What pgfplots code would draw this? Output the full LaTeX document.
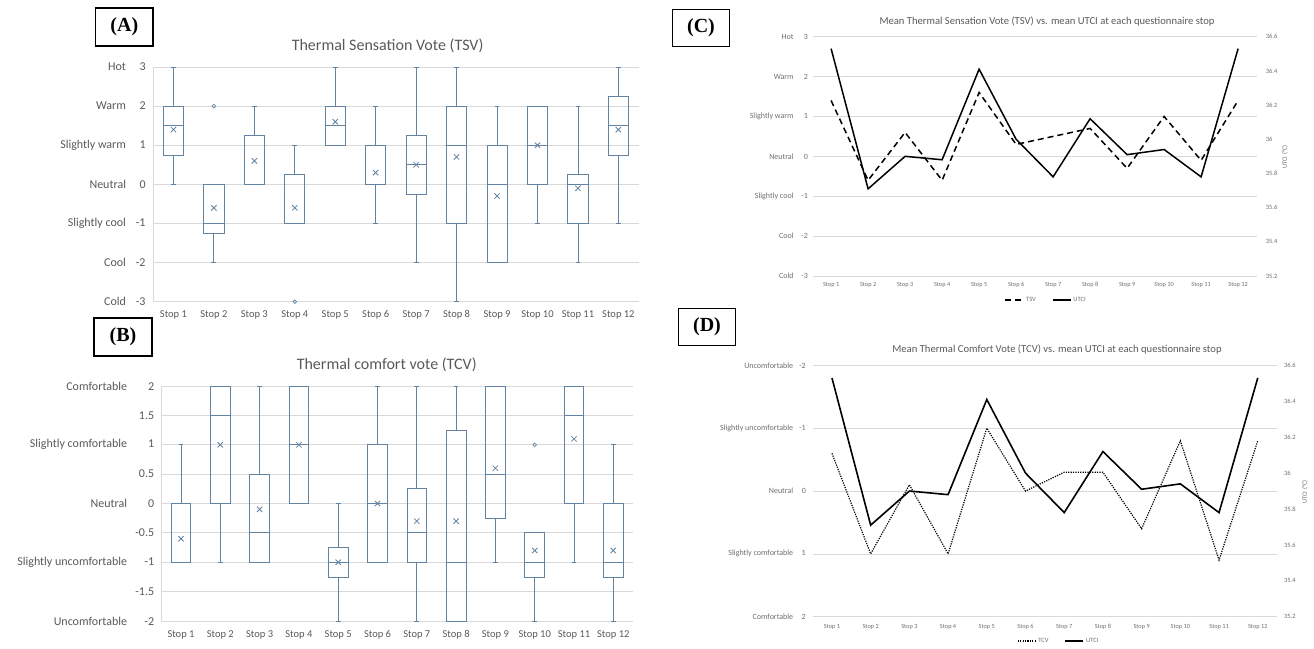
\documentclass[border=0pt]{standalone}
\usepackage{fontspec}
\setmainfont{Carlito}
\newfontfamily\tnr{Liberation Serif}
\usepackage{pgfplots}
\pgfplotsset{compat=1.18}
\usepgfplotslibrary{statistics}
\definecolor{boxcol}{RGB}{98,132,162}
\definecolor{gridc}{RGB}{217,217,217}
\definecolor{txtA}{RGB}{89,89,89}
\definecolor{txtC}{RGB}{110,110,110}
\newcommand{\bp}[6]{\addplot[boxcol, line width=0.8pt, boxplot/draw direction=y, boxplot prepared={draw position=#1, lower whisker=#2, lower quartile=#3, median=#4, upper quartile=#5, upper whisker=#6}] coordinates {};}
\newcommand{\fs}[1]{\fontsize{#1}{#1}\selectfont}
\pgfplotsset{
  boxstyle/.style={
    scale only axis, clip=false,
    xmin=0.5, xmax=12.5,
    axis lines*=left, axis line style={gridc, line width=0.8pt},
    tick style={draw=none},
    ymajorgrids, grid style={gridc, line width=0.8pt},
    xtick={1,2,3,4,5,6,7,8,9,10,11,12},
    xticklabels={Stop 1,Stop 2,Stop 3,Stop 4,Stop 5,Stop 6,Stop 7,Stop 8,Stop 9,Stop 10,Stop 11,Stop 12},
    xticklabel style={font=\fs{10.5}, text=txtA, inner sep=0pt, anchor=north, text height=7pt, text depth=2pt},
    yticklabel style={font=\fs{12}, text=txtA, inner sep=0pt, anchor=east},
    boxplot/draw direction=y,
    boxplot/box extend=0.5, boxplot/whisker extend=0.12,
  },
  linestyle/.style={
    scale only axis, clip=false,
    xmin=0.5, xmax=12.5,
    axis line style={draw=none}, tick style={draw=none},
    xtick={1,2,3,4,5,6,7,8,9,10,11,12},
    xticklabels={Stop 1,Stop 2,Stop 3,Stop 4,Stop 5,Stop 6,Stop 7,Stop 8,Stop 9,Stop 10,Stop 11,Stop 12},
    xticklabel style={font=\fs{6.3}, text=txtC, inner sep=0pt, anchor=north, text height=4.3pt, text depth=1.2pt},
    yticklabel style={font=\fs{8}, text=txtC, inner sep=0pt, anchor=east},
  },
  rightstyle/.style={
    scale only axis, clip=false,
    xmin=0.5, xmax=12.5,
    axis x line=none, axis y line*=right,
    axis line style={draw=none}, tick style={draw=none},
    ymin=35.2, ymax=36.6,
    ytick={35.2,35.4,35.6,35.8,36,36.2,36.4,36.6},
    yticklabels={35.2,35.4,35.6,35.8,36,36.2,36.4,36.6},
    yticklabel style={font=\fs{6.5}, text=txtC, inner sep=0pt, anchor=west},
    legend columns=2,
    legend style={draw=none, fill=none, font=\fs{6.5}, text=txtC, anchor=center,
      /tikz/every even column/.append style={column sep=14pt}},
    legend image code/.code={\draw[#1] (0pt,0pt) -- (18pt,0pt);},
  },
}
\begin{document}
\begin{tikzpicture}
\path[use as bounding box] (0,0) rectangle (1314pt,648pt);

% ---------------- Panel A ----------------
\begin{axis}[boxstyle, width=485.4pt, height=234.7pt,
  at={(153.2pt,346.3pt)}, anchor=south west,
  ymin=-3, ymax=3, ytick={-3,-2,-1,0,1,2,3},
  yticklabels={{Cold\makebox[19.6pt][r]{-3}},{Cool\makebox[19.6pt][r]{-2}},{Slightly cool\makebox[19.6pt][r]{-1}},{Neutral\makebox[19.6pt][r]{0}},{Slightly warm\makebox[19.6pt][r]{1}},{Warm\makebox[19.6pt][r]{2}},{Hot\makebox[19.6pt][r]{3}}},
  yticklabel style={xshift=-7.4pt},
  xticklabel style={yshift=-9pt},
]
\bp{1}{0}{0.75}{1.5}{2}{3}
\bp{2}{-2}{-1.25}{-1}{0}{0}
\bp{3}{0}{0}{0}{1.25}{2}
\bp{4}{-1}{-1}{-1}{0.25}{1}
\bp{5}{1}{1}{1.5}{2}{3}
\bp{6}{-1}{0}{0}{1}{2}
\bp{7}{-2}{-0.25}{0.5}{1.25}{3}
\bp{8}{-3}{-1}{1}{2}{3}
\bp{9}{-2}{-2}{0}{1}{2}
\bp{10}{-1}{0}{1}{2}{2}
\bp{11}{-2}{-1}{0}{0.25}{2}
\bp{12}{-1}{0.75}{1.5}{2.25}{3}
\addplot[only marks, boxcol, mark=x, mark size=3.8pt, line width=0.8pt] coordinates {
(1,1.4) (2,-0.6) (3,0.6) (4,-0.6) (5,1.6) (6,0.3) (7,0.5) (8,0.7) (9,-0.3) (10,1.0) (11,-0.1) (12,1.4)};
\addplot[only marks, boxcol, mark=o, mark size=1.8pt, line width=0.7pt] coordinates {(2,2) (4,-3)};
\end{axis}

% ---------------- Panel B ----------------
\begin{axis}[boxstyle, width=471.6pt, height=235pt,
  at={(161.35pt,27pt)}, anchor=south west,
  ymin=-2, ymax=2, ytick={-2,-1.5,-1,-0.5,0,0.5,1,1.5,2},
  yticklabels={{Uncomfortable\makebox[27pt][r]{-2}},{-1.5},{Slightly uncomfortable\makebox[27pt][r]{-1}},{-0.5},{Neutral\makebox[27pt][r]{0}},{0.5},{Slightly comfortable\makebox[27pt][r]{1}},{1.5},{Comfortable\makebox[27pt][r]{2}}},
  yticklabel style={xshift=-7pt},
  xticklabel style={yshift=-9.5pt},
]
\bp{1}{-1}{-1}{-1}{0}{1}
\bp{2}{-1}{0}{1.5}{2}{2}
\bp{3}{-1}{-1}{-0.5}{0.5}{2}
\bp{4}{0}{0}{1}{2}{2}
\bp{5}{-2}{-1.25}{-1}{-0.75}{0}
\bp{6}{-1}{-1}{0}{1}{2}
\bp{7}{-2}{-1}{-0.5}{0.25}{2}
\bp{8}{-2}{-2}{-1}{1.25}{2}
\bp{9}{-1}{-0.25}{0.5}{2}{2}
\bp{10}{-2}{-1.25}{-1}{-0.5}{-0.5}
\bp{11}{-1}{0}{1.5}{2}{2}
\bp{12}{-2}{-1.25}{-1}{0}{1}
\addplot[only marks, boxcol, mark=x, mark size=3.8pt, line width=0.8pt] coordinates {
(1,-0.6) (2,1.0) (3,-0.1) (4,1.0) (5,-1.0) (6,0.0) (7,-0.3) (8,-0.3) (9,0.6) (10,-0.8) (11,1.1) (12,-0.8)};
\addplot[only marks, boxcol, mark=o, mark size=1.8pt, line width=0.7pt] coordinates {(10,1)};
\end{axis}

% ---------------- Panel C ----------------
\begin{axis}[linestyle, width=444pt, height=239.3pt,
  at={(812.6pt,372pt)}, anchor=south west,
  ymin=-3, ymax=3, ytick={-3,-2,-1,0,1,2,3},
  ymajorgrids, grid style={gridc, line width=0.6pt},
  yticklabels={{Cold\makebox[14.3pt][r]{-3}},{Cool\makebox[14.3pt][r]{-2}},{Slightly cool\makebox[14.3pt][r]{-1}},{Neutral\makebox[14.3pt][r]{0}},{Slightly warm\makebox[14.3pt][r]{1}},{Warm\makebox[14.3pt][r]{2}},{Hot\makebox[14.3pt][r]{3}}},
  yticklabel style={xshift=-4.5pt},
  xticklabel style={yshift=-6.5pt},
]
\addplot[black, line width=1.5pt, dash pattern=on 6pt off 4pt] coordinates {
(1,1.4) (2,-0.6) (3,0.6) (4,-0.6) (5,1.6) (6,0.3) (7,0.5) (8,0.7) (9,-0.3) (10,1.0) (11,-0.1) (12,1.4)};
\end{axis}
\begin{axis}[rightstyle, width=444pt, height=239.3pt,
  at={(812.6pt,372pt)}, anchor=south west,
  yticklabel style={xshift=9pt},
  legend style={at={(0.526,-0.100)}},
]
\addlegendimage{black, line width=1.5pt, dash pattern=on 6pt off 4pt}
\addlegendentry{TSV}
\addplot[black, line width=1.5pt] coordinates {
(1,36.53) (2,35.71) (3,35.90) (4,35.88) (5,36.41) (6,36.00) (7,35.78) (8,36.12) (9,35.91) (10,35.94) (11,35.78) (12,36.53)};
\addlegendentry{UTCI}
\end{axis}

% ---------------- Panel D ----------------
\begin{axis}[linestyle, width=464.5pt, height=251.3pt,
  at={(812.6pt,31.3pt)}, anchor=south west,
  ymin=-2, ymax=2, y dir=reverse, ytick={-2,-1,0,1,2},
  ymajorgrids, grid style={gridc, line width=0.6pt},
  yticklabels={{Uncomfortable\makebox[12.6pt][r]{-2}},{Slightly uncomfortable\makebox[12.6pt][r]{-1}},{Neutral\makebox[12.6pt][r]{0}},{Slightly comfortable\makebox[12.6pt][r]{1}},{Comfortable\makebox[12.6pt][r]{2}}},
  yticklabel style={xshift=-6.6pt},
  xticklabel style={yshift=-6.8pt},
]
\addplot[black, line width=1.2pt, dash pattern=on 1.2pt off 1.2pt] coordinates {
(1,-0.6) (2,1.0) (3,-0.1) (4,1.0) (5,-1.0) (6,0.0) (7,-0.3) (8,-0.3) (9,0.6) (10,-0.8) (11,1.1) (12,-0.8)};
\end{axis}
\begin{axis}[rightstyle, width=464.5pt, height=251.3pt,
  at={(812.6pt,31.3pt)}, anchor=south west,
  yticklabel style={xshift=6.8pt},
  legend style={at={(0.53,-0.097)}},
]
\addlegendimage{black, line width=1.2pt, dash pattern=on 1.2pt off 1.2pt}
\addlegendentry{TCV}
\addplot[black, line width=1.6pt] coordinates {
(1,36.53) (2,35.71) (3,35.90) (4,35.88) (5,36.41) (6,36.00) (7,35.78) (8,36.12) (9,35.91) (10,35.94) (11,35.78) (12,36.53)};
\addlegendentry{UTCI}
\end{axis}

% ---------------- titles and labels ----------------
\node[font=\fs{16}, text=txtA] at (387.6pt,602.5pt) {Thermal Sensation Vote (TSV)};
\node[font=\fs{16}, text=txtA] at (386.7pt,283.3pt) {Thermal comfort vote (TCV)};
\node[font=\fs{10.6}, text=txtA] at (1047pt,626.3pt) {Mean Thermal Sensation Vote (TSV) vs. mean UTCI at each questionnaire stop};
\node[font=\fs{10.6}, text=txtA] at (1057pt,298.5pt) {Mean Thermal Comfort Vote (TCV) vs. mean UTCI at each questionnaire stop};
\node[rotate=90, font=\fs{6.5}, text=txtC] at (1285pt,491pt) {UTCI (°C)};
\node[rotate=90, font=\fs{6.5}, text=txtC] at (1305pt,156pt) {UTCI (°C)};

\node[draw=black, line width=1.1pt, minimum width=57.4pt, minimum height=38pt, inner sep=0pt, font=\tnr\bfseries\fs{20}] at (124.3pt,621pt) {(A)};
\node[draw=black, line width=1.1pt, minimum width=58pt, minimum height=38pt, inner sep=0pt, font=\tnr\bfseries\fs{20}] at (123pt,311pt) {(B)};
\node[draw=black, line width=1.1pt, minimum width=57pt, minimum height=37.4pt, inner sep=0pt, font=\tnr\bfseries\fs{20}] at (701pt,620pt) {(C)};
\node[draw=black, line width=1.1pt, minimum width=57.7pt, minimum height=37.4pt, inner sep=0pt, font=\tnr\bfseries\fs{20}] at (707pt,321pt) {(D)};
\end{tikzpicture}
\end{document}
